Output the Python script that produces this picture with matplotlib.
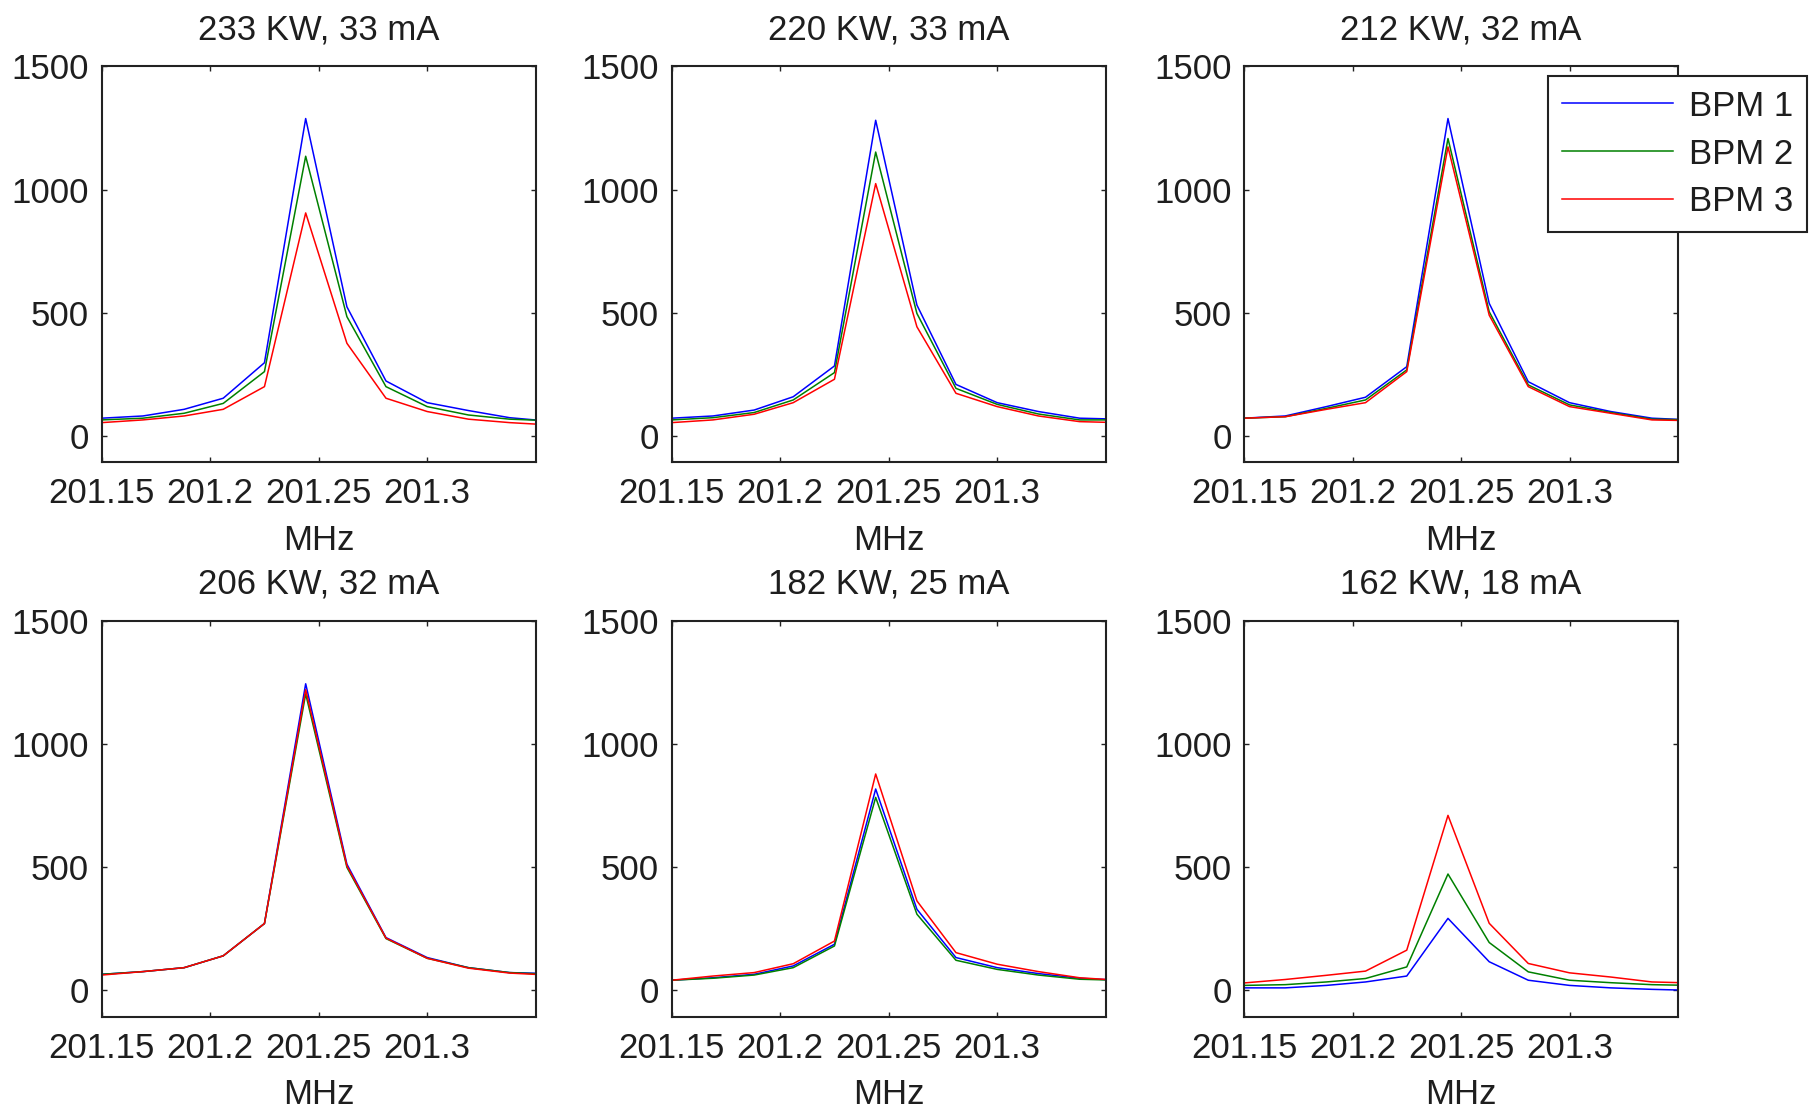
import matplotlib
matplotlib.use("Agg")
import matplotlib.pyplot as plt

# ---- data ----
freq = [201.150, 201.169, 201.188, 201.206, 201.225, 201.244,
        201.263, 201.281, 201.300, 201.319, 201.338, 201.356]

titles = ["233 KW, 33 mA", "220 KW, 33 mA", "212 KW, 32 mA",
          "206 KW, 32 mA", "182 KW, 25 mA", "162 KW, 18 mA"]

bpm1_p1 = [72, 81, 108, 153, 297, 1288, 524, 223, 135, 103, 74, 60]
bpm2_p1 = [65, 72, 92, 132, 261, 1135, 484, 200, 119, 85, 68, 62]
bpm3_p1 = [54, 65, 81, 108, 200, 905, 376, 153, 99, 68, 54, 45]

bpm1_p2 = [72, 81, 105, 159, 284, 1281, 531, 209, 135, 99, 72, 68]
bpm2_p2 = [65, 74, 95, 146, 257, 1152, 497, 193, 128, 89, 65, 65]
bpm3_p2 = [54, 65, 88, 135, 230, 1024, 443, 173, 119, 81, 58, 54]

bpm1_p3 = [72, 81, 119, 157, 281, 1288, 538, 220, 135, 99, 72, 65]
bpm2_p3 = [72, 78, 112, 146, 268, 1207, 504, 207, 126, 95, 68, 65]
bpm3_p3 = [72, 78, 108, 135, 261, 1173, 490, 200, 119, 92, 65, 62]

bpm1_p4 = [65, 76, 92, 140, 271, 1244, 512, 214, 133, 92, 72, 68]
bpm2_p4 = [65, 76, 92, 140, 271, 1203, 499, 210, 130, 92, 72, 65]
bpm3_p4 = [62, 76, 92, 140, 271, 1220, 505, 212, 130, 90, 70, 62]

bpm1_p5 = [41, 51, 65, 99, 187, 817, 329, 133, 92, 68, 49, 41]
bpm2_p5 = [41, 49, 62, 92, 180, 783, 309, 122, 85, 62, 45, 41]
bpm3_p5 = [41, 58, 72, 108, 200, 878, 363, 153, 106, 76, 51, 41]

bpm1_p6 = [10, 10, 20, 34, 58, 292, 116, 41, 20, 10, 4, 0]
bpm2_p6 = [20, 23, 34, 48, 95, 472, 194, 75, 41, 31, 23, 20]
bpm3_p6 = [30, 44, 61, 78, 163, 710, 272, 109, 71, 54, 34, 30]

panels = [
    (bpm1_p1, bpm2_p1, bpm3_p1),
    (bpm1_p2, bpm2_p2, bpm3_p2),
    (bpm1_p3, bpm2_p3, bpm3_p3),
    (bpm1_p4, bpm2_p4, bpm3_p4),
    (bpm1_p5, bpm2_p5, bpm3_p5),
    (bpm1_p6, bpm2_p6, bpm3_p6),
]
series_labels = ["BPM 1", "BPM 2", "BPM 3"]
series_colors = ["#0000ff", "#008000", "#ff0000"]

xticks = [201.15, 201.2, 201.25, 201.3]
xticklabels = ["201.15", "201.2", "201.25", "201.3"]
yticks = [0, 500, 1000, 1500]
yticklabels = ["0", "500", "1000", "1500"]

# ---- style ----
plt.rcParams['font.family'] = ['Liberation Sans', 'DejaVu Sans']
FS = 25
TXT = "#1e1e1e"

W, H = 1809, 1109
fig = plt.figure(figsize=(W / 100, H / 100), dpi=100)

lefts = [101.7, 671.7, 1244.0]
tops = [66.3, 620.7]
aw, ah = 434.0, 396.0

axes = []
for i in range(6):
    r, c = divmod(i, 3)
    l = lefts[c] / W
    b = 1 - (tops[r] + ah) / H
    ax = fig.add_axes([l, b, aw / W, ah / H])
    axes.append(ax)
    lines = []
    for ser, lab, col in zip(panels[i], series_labels, series_colors):
        ln, = ax.plot(freq, ser, color=col, lw=1.1, label=lab)
        lines.append(ln)
    ax.set_xlim(201.15, 201.35)
    ax.set_ylim(-107, 1500)
    ax.set_xticks(xticks)
    ax.set_xticklabels(xticklabels)
    ax.set_yticks(yticks)
    ax.set_yticklabels(yticklabels)
    ax.tick_params(direction='in', top=True, right=True, length=3.5, width=1.0,
                   labelsize=FS, labelcolor=TXT, colors='#222222')
    ax.tick_params(axis='y', pad=9)
    ax.tick_params(axis='x', pad=10.7)
    for sp in ax.spines.values():
        sp.set_linewidth(1.5)
        sp.set_color('#222222')
    ax.set_title(titles[i], fontsize=FS, color=TXT, pad=19.5)
    ax.set_xlabel("MHz", fontsize=FS, color=TXT, labelpad=10)
    if i == 2:
        legend_lines = lines

leg = fig.legend(legend_lines, series_labels, loc='upper left',
                 bbox_to_anchor=(1548 / W, 1 - 75.7 / H), borderaxespad=0,
                 fontsize=FS, handlelength=3.2, handletextpad=0.45,
                 borderpad=0.4, labelspacing=0.43, fancybox=False,
                 framealpha=1, edgecolor='#222222')
leg.get_frame().set_linewidth(1.5)
for t in leg.get_texts():
    t.set_color(TXT)

fig.savefig("out.png", dpi=100)
